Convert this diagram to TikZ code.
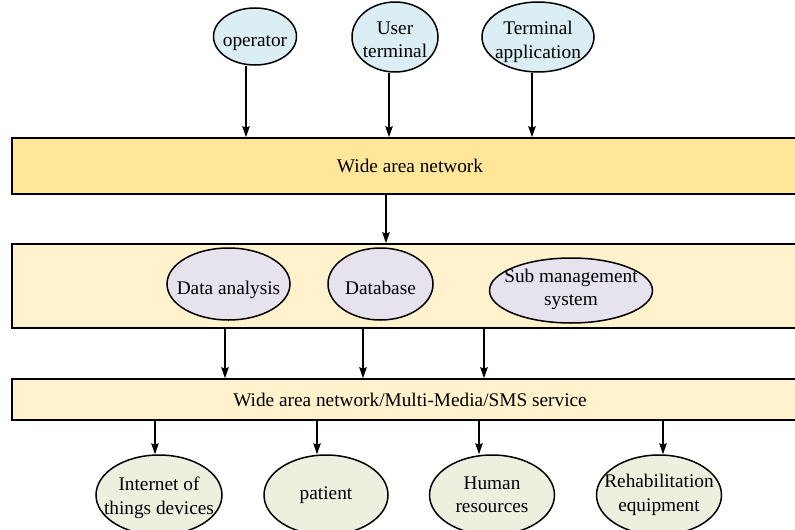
\documentclass[tikz,border=0pt]{standalone}
\usepackage{fontspec}
\setmainfont{Liberation Serif}
\usetikzlibrary{shapes.geometric,arrows.meta}

\definecolor{wanfill}{HTML}{FFE699}
\definecolor{layerfill}{HTML}{FFF2CC}
\definecolor{topfill}{HTML}{DAEEF3}
\definecolor{midfill}{HTML}{E6E3EE}
\definecolor{lowfill}{HTML}{EBF1DE}

\begin{document}
\begin{tikzpicture}[x=1pt,y=-1pt,
  every node/.style={font=\fontsize{19.3}{23.5}\selectfont},
  layer/.style={draw=black,line width=1.6pt,inner sep=0pt,minimum width=796pt},
  oval/.style={ellipse,draw=black,line width=1.5pt,inner sep=0pt},
  txt/.style={align=center,inner sep=0pt},
  arr/.style={line width=1.3pt,-{Stealth[length=11pt,width=7.5pt,inset=1.5pt]}}
]
\useasboundingbox (0,0) rectangle (795,530);

% three horizontal layers
\node[layer,fill=wanfill,minimum height=56pt] (wan) at (410,166) {Wide area network};
\node[layer,fill=layerfill,minimum height=84pt] (core) at (410,286) {};
\node[layer,fill=layerfill,minimum height=41pt] (svc) at (410,399.5) {Wide area network/Multi-Media/SMS service};

% access side
\node[oval,fill=topfill,minimum width=83pt,minimum height=57pt] (op) at (255,36.5) {};
\node[txt,yshift=-7pt] at (op) {operator};
\node[oval,fill=topfill,minimum width=86pt,minimum height=70pt] (ut) at (395,37) {};
\node[txt,yshift=-3pt] at (ut) {User\\terminal};
\node[oval,fill=topfill,minimum width=112pt,minimum height=70pt] (ta) at (538,37) {};
\node[txt,yshift=-5pt] at (ta) {Terminal\\application};

% core services
\node[oval,fill=midfill,minimum width=123pt,minimum height=72pt] (da) at (228.5,284) {};
\node[txt,yshift=-6pt] at (da) {Data analysis};
\node[oval,fill=midfill,minimum width=105pt,minimum height=72pt] (db) at (380.5,284) {};
\node[txt,yshift=-4pt] at (db) {Database};
\node[oval,fill=midfill,minimum width=163pt,minimum height=65pt] (sm) at (571,290.5) {};
\node[txt,yshift=1pt] at (sm) {Sub management\\system};

% served parties
\node[oval,fill=lowfill,minimum width=126pt,minimum height=80pt] (iot) at (159,495) {};
\node[txt,yshift=-3pt] at (iot) {Internet of\\things devices};
\node[oval,fill=lowfill,minimum width=124pt,minimum height=80pt] (pat) at (326,495) {};
\node[txt] at (pat) {patient};
\node[oval,fill=lowfill,minimum width=125pt,minimum height=80pt] (hr) at (492,495) {};
\node[txt] at (hr) {Human\\resources};
\node[oval,fill=lowfill,minimum width=125pt,minimum height=80pt] (reh) at (659,495) {};
\node[txt] at (reh) {Rehabilitation\\equipment};

% x positions of the vertical links
\coordinate (x1) at (246,0);
\coordinate (x2) at (389,0);
\coordinate (x3) at (532,0);
\coordinate (x4) at (386,0);
\coordinate (x5) at (225,0);
\coordinate (x6) at (363,0);
\coordinate (x7) at (484,0);
\coordinate (x8) at (155,0);
\coordinate (x9) at (317,0);
\coordinate (x10) at (479,0);
\coordinate (x11) at (663,0);

\draw[arr] (op.south -| x1) -- (wan.north -| x1);
\draw[arr] (ut.south -| x2) -- (wan.north -| x2);
\draw[arr] (ta.south -| x3) -- (wan.north -| x3);

\draw[arr] (wan.south -| x4) -- (core.north -| x4);

\draw[arr] (core.south -| x5) -- (svc.north -| x5);
\draw[arr] (core.south -| x6) -- (svc.north -| x6);
\draw[arr] (core.south -| x7) -- (svc.north -| x7);

\draw[arr] (svc.south -| x8) -- (iot.north -| x8);
\draw[arr] (svc.south -| x9) -- (pat.north -| x9);
\draw[arr] (svc.south -| x10) -- (hr.north -| x10);
\draw[arr] (svc.south -| x11) -- (reh.north -| x11);
\end{tikzpicture}
\end{document}
